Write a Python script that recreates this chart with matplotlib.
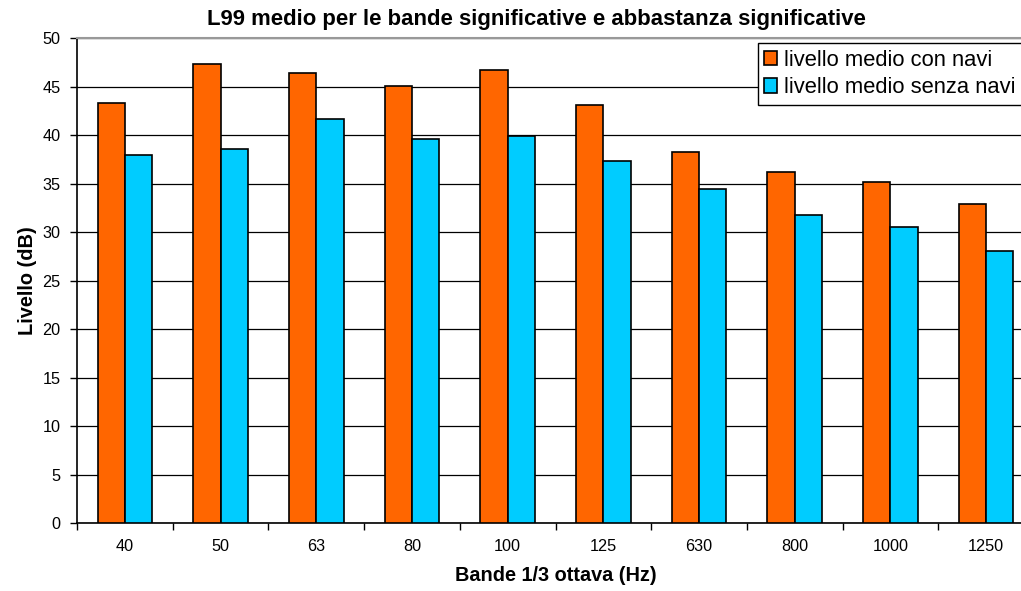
import numpy as np
import matplotlib.pyplot as plt

plt.rcParams['font.family'] = ['Liberation Sans', 'DejaVu Sans']

bande = ['40', '50', '63', '80', '100', '125', '630', '800', '1000', '1250']
con_navi = [43.3, 47.35, 46.4, 45.1, 46.7, 43.15, 38.3, 36.2, 35.2, 32.9]
senza_navi = [38.0, 38.6, 41.65, 39.65, 39.95, 37.3, 34.5, 31.8, 30.55, 28.1]

fig = plt.figure(figsize=(10.21, 5.91), dpi=100)
# plot area runs slightly past the right edge of the figure
ax = fig.add_axes([77 / 1021, 67.7 / 591, 957 / 1021, 485 / 591])

x = np.arange(len(bande))
w = 1 / 3.5
ax.bar(x - w / 2, con_navi, w, color='#FF6600', edgecolor='black', linewidth=1.2,
       label='livello medio con navi', zorder=3)
ax.bar(x + w / 2, senza_navi, w, color='#00CCFF', edgecolor='black', linewidth=1.2,
       label='livello medio senza navi', zorder=3)

ax.set_xlim(-0.5, len(bande) - 0.5)
ax.set_ylim(0, 50)
ax.set_yticks(np.arange(0, 51, 5))
ax.yaxis.grid(True, color='black', linewidth=0.9, zorder=0)
ax.set_axisbelow(True)

# category ticks sit between the groups, labels in the middle
ax.set_xticks(np.arange(-0.5, len(bande), 1))
ax.set_xticklabels([])
ax.set_xticks(x, minor=True)
ax.set_xticklabels(bande, minor=True, fontsize=11.7)
ax.tick_params(axis='x', which='major', direction='out', length=5, width=1, color='black')
ax.tick_params(axis='x', which='minor', length=0, pad=11)
ax.tick_params(axis='y', direction='out', length=5, width=1, labelsize=11.7, pad=7)

for side in ['left', 'bottom']:
    ax.spines[side].set_color('black')
    ax.spines[side].set_linewidth(1.2)
ax.spines['top'].set_color('#999999')
ax.spines['top'].set_linewidth(1.5)
ax.spines['right'].set_visible(False)

ax.set_ylabel('Livello (dB)', fontsize=14.4, fontweight='bold', labelpad=4)
ax.set_xlabel('Bande 1/3 ottava (Hz)', fontsize=14.3, fontweight='bold', labelpad=9)
fig.text(536.7 / 1021, 1 - 19 / 591, 'L99 medio per le bande significative e abbastanza significative',
         ha='center', va='center', fontsize=15.9, fontweight='bold')

leg = fig.legend(loc='upper left', bbox_to_anchor=(757.7 / 1021, 1 - 43 / 591),
                 fontsize=15.8, frameon=True, fancybox=False, framealpha=1,
                 edgecolor='black', handlelength=0.6, handleheight=0.65,
                 handletextpad=0.3, borderpad=0.3, labelspacing=0.3, borderaxespad=0)
leg.get_frame().set_linewidth(1)

fig.savefig('out.png', dpi=100)
